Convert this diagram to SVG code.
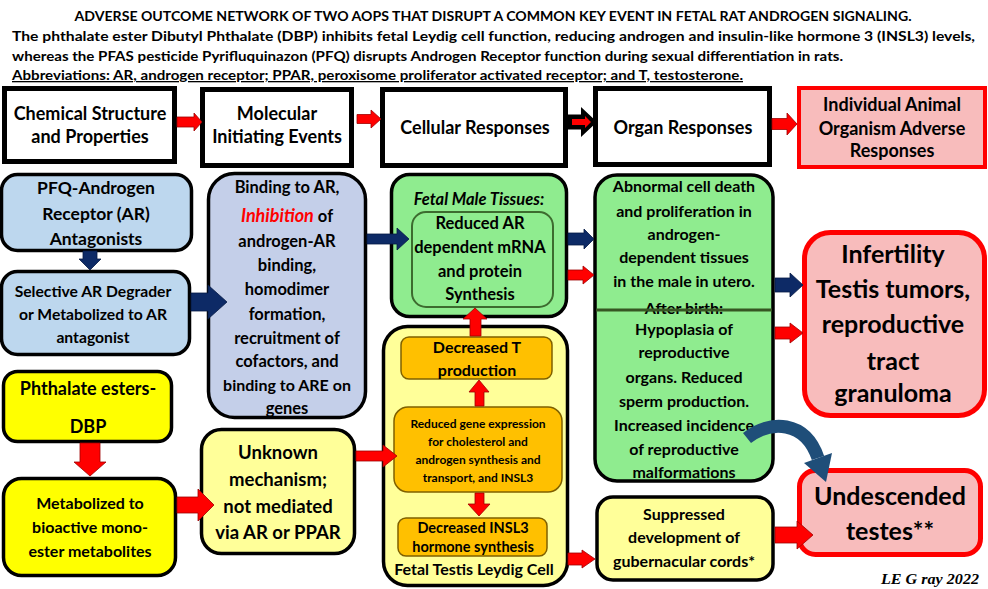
<svg xmlns="http://www.w3.org/2000/svg" width="988" height="589" viewBox="0 0 988 589">
<style>
text{font-family:Lato,"Liberation Sans",sans-serif;font-weight:bold;fill:#000;text-anchor:middle}
.hd{text-anchor:start;font-size:13px}
.top{fill:#fff;stroke:#000;stroke-width:5}
.bx{stroke:#000;stroke-width:3.5}
.blue{fill:#bdd7ee}
.lav{fill:#c4cfe9}
.grn{fill:#8fec8f}
.yel{fill:#ffff00}
.lyel{fill:#ffff99}
.org{fill:#ffc000;stroke:#7f6000;stroke-width:1.5}
.pink{fill:#f8bcbc;stroke:#ff0000;stroke-width:5}
.ra{fill:#ff0000;stroke:#a00000;stroke-width:0.8}
.ba{fill:#0d2a66;stroke:#061a44;stroke-width:0.8}
.s12{font-size:12px}.s14{font-size:14.5px}.s15{font-size:15.7px}.s16{font-size:16px}.s165{font-size:16.5px}.s17{font-size:17.5px}.s18{font-size:18px}.s19{font-size:18.5px}.s25{font-size:25px}
</style>
<rect width="988" height="589" fill="#fff"/>
<g id="header">
<text x="493" y="21" style="font-size:13.5px" textLength="837" lengthAdjust="spacingAndGlyphs">ADVERSE OUTCOME NETWORK OF TWO AOPS THAT DISRUPT A COMMON KEY EVENT IN FETAL RAT  ANDROGEN SIGNALING.</text>
<text class="hd" x="12" y="41" textLength="963" lengthAdjust="spacingAndGlyphs">The phthalate ester Dibutyl Phthalate (DBP) inhibits fetal Leydig cell function, reducing  androgen and insulin-like hormone 3 (INSL3) levels,</text>
<text class="hd" x="12" y="61" textLength="831" lengthAdjust="spacingAndGlyphs">whereas the PFAS pesticide Pyrifluquinazon (PFQ) disrupts Androgen Receptor function during sexual differentiation in rats.</text>
<text class="hd" x="12" y="80" textLength="731" lengthAdjust="spacingAndGlyphs" text-decoration="underline">Abbreviations: AR, androgen receptor; PPAR, peroxisome proliferator activated receptor; and T, testosterone.</text>
</g>
<g id="chem">
<rect class="top" x="4.5" y="88.5" width="170" height="73"/>
<text class="s18" x="90" y="120">Chemical Structure</text>
<text class="s18" x="90" y="143">and Properties</text>
</g>
<g id="mie">
<rect class="top" x="202.5" y="89.5" width="149" height="76"/>
<text class="s18" x="277" y="120">Molecular</text>
<text class="s18" x="277" y="143">Initiating Events</text>
</g>
<g id="cellular">
<rect class="top" x="382.5" y="89.5" width="183" height="76"/>
<text class="s18" x="475" y="134">Cellular Responses</text>
</g>
<g id="organ">
<rect class="top" x="595.5" y="88.5" width="174" height="76"/>
<text class="s18" x="683" y="134">Organ Responses</text>
</g>
<g id="individual">
<rect x="799" y="88" width="186" height="79" fill="#f8bcbc" stroke="#ff0000" stroke-width="4"/>
<text class="s18" x="892" y="111">Individual Animal</text>
<text class="s18" x="892" y="135">Organism Adverse</text>
<text class="s18" x="892" y="157">Responses</text>
</g>
<g id="pfq">
<rect class="bx blue" x="1.5" y="174.5" width="190" height="76" rx="16"/>
<text class="s17" x="96" y="194">PFQ-Androgen</text>
<text class="s17" x="96" y="220">Receptor  (AR)</text>
<text class="s17" x="96" y="245">Antagonists</text>
</g>
<g id="serd">
<rect class="bx blue" x="1.5" y="271.5" width="188" height="83" rx="16"/>
<text class="s15" x="93" y="297">Selective AR Degrader</text>
<text class="s15" x="93" y="320">or  Metabolized to AR</text>
<text class="s15" x="93" y="343">antagonist</text>
</g>
<g id="binding">
<rect class="bx lav" x="208.5" y="173.5" width="157" height="244" rx="26"/>
<text class="s165" x="287" y="193">Binding to AR,</text>
<text class="s165" x="287" y="222"><tspan fill="#ff0000" font-style="italic" font-size="18px">Inhibition</tspan> of</text>
<text class="s165" x="287" y="247">androgen-AR</text>
<text class="s165" x="287" y="271">binding,</text>
<text class="s165" x="287" y="295">homodimer</text>
<text class="s165" x="287" y="320">formation,</text>
<text class="s165" x="287" y="344">recruitment of</text>
<text class="s165" x="287" y="367">cofactors, and</text>
<text class="s16" x="287" y="391">binding to ARE on</text>
<text class="s165" x="287" y="414">genes</text>
</g>
<g id="fetalmale">
<rect class="bx grn" x="391.5" y="174.5" width="175" height="142" rx="18"/>
<text class="s165" x="479" y="205" font-style="italic">Fetal Male Tissues:</text>
<rect x="412" y="212" width="141" height="95" rx="14" fill="#8fec8f" stroke="#3d6b2f" stroke-width="2"/>
<text class="s165" x="480" y="229">Reduced AR</text>
<text class="s165" x="480" y="253">dependent mRNA</text>
<text class="s165" x="480" y="277">and protein</text>
<text class="s165" x="480" y="300">Synthesis</text>
</g>
<g id="organresp">
<rect class="bx grn" x="595" y="175" width="178" height="306" rx="22"/>
<text class="s16" x="684" y="192">Abnormal cell death</text>
<text class="s16" x="684" y="217">and proliferation in</text>
<text class="s16" x="684" y="240">androgen-</text>
<text class="s16" x="684" y="263">dependent tissues</text>
<text class="s16" x="684" y="287">in the male in utero.</text>
<text class="s16" x="684" y="314">After birth:</text>
<line x1="596" y1="310" x2="772" y2="310" stroke="#375623" stroke-width="3"/>
<text class="s16" x="684" y="335">Hypoplasia of</text>
<text class="s16" x="684" y="358">reproductive</text>
<text class="s16" x="684" y="383">organs. Reduced</text>
<text class="s16" x="684" y="407">sperm production.</text>
<text class="s16" x="684" y="431">Increased incidence</text>
<text class="s16" x="684" y="455">of reproductive</text>
<text class="s16" x="684" y="478">malformations</text>
</g>
<g id="infertility">
<rect class="pink" x="804.5" y="232.5" width="180" height="183" rx="26"/>
<text class="s25" x="893" y="263">Infertility</text>
<text class="s25" x="893" y="298">Testis tumors,</text>
<text class="s25" x="893" y="333">reproductive</text>
<text class="s25" x="893" y="370">tract</text>
<text class="s25" x="893" y="402">granuloma</text>
</g>
<g id="undescended">
<rect class="pink" x="799.5" y="470.5" width="181" height="84" rx="16"/>
<text class="s25" x="890" y="505">Undescended</text>
<text class="s25" x="890" y="540">testes**</text>
</g>
<g id="phthalate">
<rect class="bx yel" x="3.5" y="371.5" width="168" height="70" rx="14"/>
<text class="s18" x="88" y="395">Phthalate esters-</text>
<text class="s18" x="88" y="433">DBP</text>
</g>
<g id="metabolized">
<rect class="bx yel" x="3.5" y="478.5" width="172" height="97" rx="18"/>
<text class="s16" x="90" y="509">Metabolized to</text>
<text class="s16" x="90" y="533">bioactive mono-</text>
<text class="s16" x="90" y="557">ester metabolites</text>
</g>
<g id="unknown">
<rect class="bx lyel" x="201.5" y="429.5" width="153" height="124" rx="20"/>
<text class="s19" x="278" y="459">Unknown</text>
<text class="s19" x="278" y="486">mechanism;</text>
<text class="s19" x="278" y="513">not mediated</text>
<text class="s19" x="278" y="539">via AR or PPAR</text>
</g>
<g id="leydig">
<rect class="bx lyel" x="383.5" y="326.5" width="184" height="259" rx="24"/>
<text class="s16" x="474" y="575">Fetal Testis Leydig Cell</text>
</g>
<g id="decT">
<rect class="org" x="401" y="337" width="151" height="42" rx="8"/>
<text class="s16" x="477" y="353">Decreased T</text>
<text class="s16" x="477" y="376">production</text>
</g>
<g id="geneexp">
<rect class="org" x="394" y="407" width="168" height="85" rx="14"/>
<text class="s12" x="478" y="428">Reduced  gene expression</text>
<text class="s12" x="478" y="446">for cholesterol and</text>
<text class="s12" x="478" y="464">androgen synthesis and</text>
<text class="s12" x="478" y="482">transport, and INSL3</text>
</g>
<g id="insl3">
<rect class="org" x="398" y="518" width="149" height="38" rx="8"/>
<text class="s14" x="473" y="533">Decreased INSL3</text>
<text class="s14" x="473" y="552">hormone synthesis</text>
</g>
<g id="suppressed">
<rect class="bx lyel" x="597" y="497" width="176" height="83" rx="16"/>
<text class="s16" x="684" y="520">Suppressed</text>
<text class="s16" x="684" y="543">development of</text>
<text class="s16" x="684" y="567">gubernacular cords*</text>
</g>
<g id="signature">
<text x="930" y="584" style="font-family:'Liberation Serif',serif;font-style:italic;font-size:14px" textLength="98" lengthAdjust="spacingAndGlyphs">LE G ray  2022</text>
</g>
<g id="connectors">
<polygon class="ra" points="177,117 194,117 194,113 202,122 194,131 194,127 177,127"/>
<polygon class="ra" points="357,114.5 371,114.5 371,110 381,119 371,128 371,123.5 357,123.5"/>
<polygon fill="#000" points="568,114.5 581,114.5 581,107 597,122 581,137 581,129.5 568,129.5"/>
<polygon fill="#ff0000" points="572,119 585,119 585,116 591,122 585,128 585,125 572,125"/>
<polygon class="ra" points="772,118.5 787,118.5 787,113 797,124 787,135 787,129.5 772,129.5"/>
<polygon class="ba" points="83,251 97,251 97,259 101,259 90,270 79,259 83,259"/>
<polygon class="ba" points="191,293 208,293 208,285 227,302 208,319 208,311 191,311"/>
<polygon class="ba" points="367,234 397,234 397,228 409,239 397,250 397,244 367,244"/>
<polygon class="ba" points="568,233 584,233 584,229 594,239 584,249 584,245 568,245"/>
<polygon class="ra" points="568,270 583,270 583,266 594,275 583,284 583,280 568,280"/>
<polygon class="ba" points="775,278 790,278 790,273 803,285 790,297 790,292 775,292"/>
<polygon class="ra" points="775,327 790,327 790,323 803,333 790,343 790,339 775,339"/>
<polygon class="ra" points="470,336 470,319 463,319 475,308 487,319 481,319 481,336"/>
<polygon class="ra" points="475,406 475,392 469,392 479,380 489,392 484,392 484,406"/>
<polygon class="ra" points="475,493 484,493 484,504 490,504 479,516 468,504 475,504"/>
<polygon class="ra" points="356,451 383,451 383,445 397,456 383,467 383,461 356,461"/>
<polygon class="ra" points="568,553 582,553 582,550 595,559 582,568 582,565 568,565"/>
<polygon class="ra" points="775,527 797,527 797,521 813,535 797,549 797,543 775,543"/>
<polygon class="ra" points="80,443 100,443 100,462 106,462 90,476 74,462 80,462"/>
<polygon class="ra" points="177,497 198,497 198,489 214,505 198,521 198,513 177,513"/>
<path d="M747,438 C770,420 805,420 818,458" fill="none" stroke="#1f4e79" stroke-width="13"/>
<polygon fill="#1f4e79" points="832,453 804,463 826,482"/>
</g>
</svg>
